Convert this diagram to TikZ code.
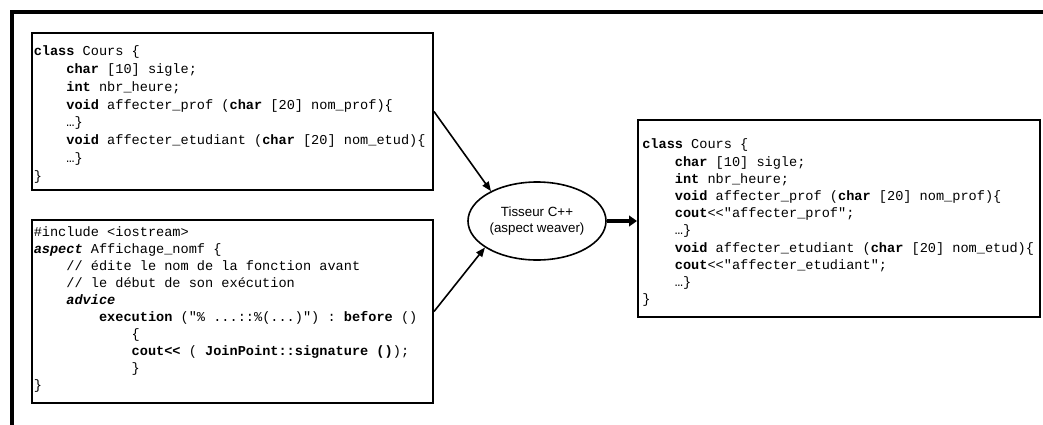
\documentclass[tikz,border=0pt]{standalone}
\usepackage{fontspec}
\setmainfont{Liberation Sans}
\setmonofont{Liberation Mono}
\usetikzlibrary{arrows.meta,shapes.geometric}

% code helpers: bold keyword and indentation by a number of monospace cells
\newcommand\kw[1]{\textbf{#1}}
\newcommand\ind[1]{\hspace*{\dimexpr 6.12pt*#1\relax}}

\tikzset{
  frame/.style={line width=2.4pt, line join=miter},
  codebox/.style={draw, line width=1.5pt, rectangle, inner sep=0pt},
  code/.style={anchor=north west, inner sep=0pt, align=left},
  weaverstyle/.style={draw, line width=1.2pt, ellipse, inner sep=0pt,
    minimum width=103.5pt, minimum height=58.5pt, align=center,
    font=\fontsize{10}{12}\selectfont},
  thin arrow/.style={line width=1.2pt, -{Triangle[length=7pt,width=5.5pt]}},
  thick arrow/.style={line width=3pt, -{Triangle[length=6pt,width=8pt]}}
}

\begin{document}
\begin{tikzpicture}[x=0.75pt, y=-0.75pt]
\useasboundingbox (0,0) rectangle (1043,425);

% open outer frame: top and left edges only
\coordinate (ftr) at (1043,12);
\coordinate (ftl) at (12,12);
\coordinate (fbl) at (12,425);
\draw[frame] (ftr) -- (ftl) -- (fbl);

% box frames
\node[codebox, minimum width=300.75pt, minimum height=117.75pt] (cls) at (232.5,111.5) {};
\node[codebox, minimum width=300.75pt, minimum height=137.25pt] (asp) at (232.5,311.5) {};
\node[codebox, minimum width=301.5pt, minimum height=147.75pt] (res) at (839,218.5) {};

% weaver
\node[weaverstyle] (weaver) at (537,221) {Tisseur C++\\(aspect weaver)};

% source class
\node[code, font=\ttfamily\fontsize{10.2}{13.3}\selectfont] (clstext) at (33.5,43.2) {%
\strut\kw{class} Cours \{\\
\ind4\kw{char} [10] sigle;\\
\ind4\kw{int} nbr\_heure;\\
\ind4\kw{void} affecter\_prof (\kw{char} [20] nom\_prof)\{\\
\ind4…\}\\
\ind4\kw{void} affecter\_etudiant (\kw{char} [20] nom\_etud)\{\\
\ind4…\}\\
\}};

% aspect
\node[code, font=\ttfamily\fontsize{10.2}{12.75}\selectfont] (asptext) at (33.5,224.7) {%
\strut\#include <iostream>\\
\kw{\textit{aspect}} Affichage\_nomf \{\\
\ind4// édite le nom de la fonction avant\\
\ind4// le début de son exécution\\
\ind4\kw{\textit{advice}}\\
\ind8\kw{execution} ("\% ...::\%(...)") : \kw{before} ()\\
\ind{12}\{\\
\ind{12}\kw{cout<<} ( \kw{JoinPoint::signature ()});\\
\ind{12}\}\\
\}};

% woven result
\node[code, font=\ttfamily\fontsize{10.2}{12.9}\selectfont] (restext) at (642,136.6) {%
\strut\kw{class} Cours \{\\
\ind4\kw{char} [10] sigle;\\
\ind4\kw{int} nbr\_heure;\\
\ind4\kw{void} affecter\_prof (\kw{char} [20] nom\_prof)\{\\
\ind4\kw{cout}<<"affecter\_prof";\\
\ind4…\}\\
\ind4\kw{void} affecter\_etudiant (\kw{char} [20] nom\_etud)\{\\
\ind4\kw{cout}<<"affecter\_etudiant";\\
\ind4…\}\\
\}};

% connectors
\draw[thin arrow] (cls.east) -- (weaver.147);
\draw[thin arrow] (asp.east) -- (weaver.207);
\draw[thick arrow] (weaver.east) -- (weaver.east -| res.west);
\end{tikzpicture}
\end{document}
